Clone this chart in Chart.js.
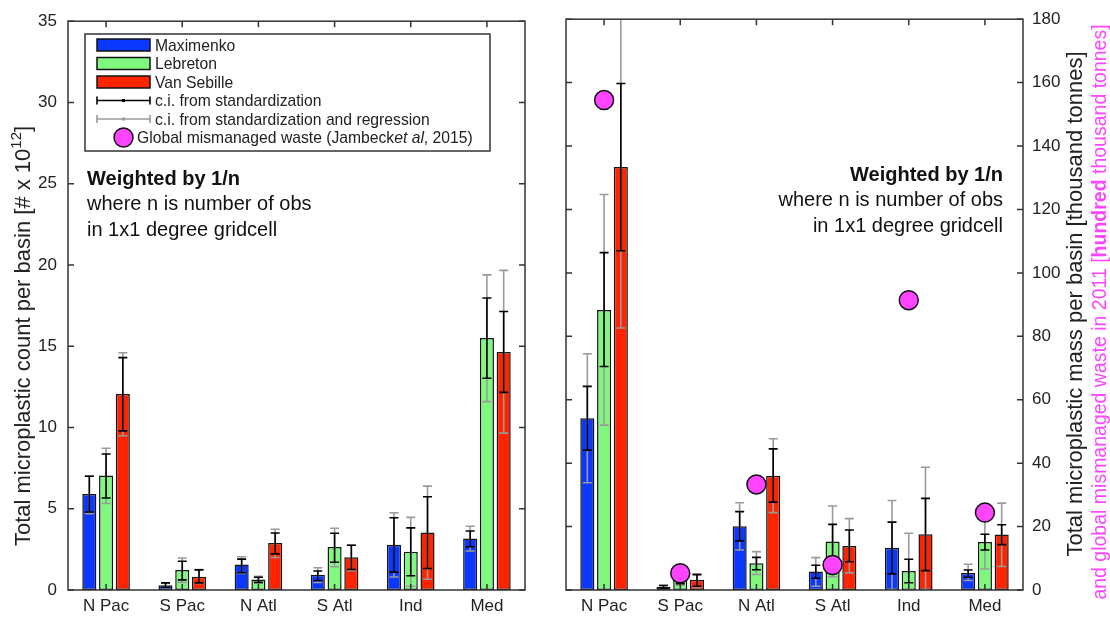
<!DOCTYPE html>
<html>
<head>
<meta charset="utf-8">
<script src="https://cdn.jsdelivr.net/npm/chart.js@4.4.1/dist/chart.umd.min.js"></script>
<style>
  html, body { margin: 0; padding: 0; background: #fff; }
  #wrap { position: relative; width: 1110px; height: 619px; }
  #countChart { position: absolute; left: 0; top: 0; }
  #massChart { position: absolute; left: 545px; top: 0; }
</style>
</head>
<body>
<div id="wrap">
  <canvas id="countChart" width="545" height="619"></canvas>
  <canvas id="massChart" width="565" height="619"></canvas>
</div>
<script>
// categories and series
const basins = ["N Pac", "S Pac", "N Atl", "S Atl", "Ind", "Med"];
const models = ["Maximenko", "Lebreton", "Van Sebille"];
const modelColors = ["#0a38ff", "#80f880", "#ff2400"];

// left panel: microplastic count [# x 10^12]
const countTicks = [0, 5, 10, 15, 20, 25, 30, 35];
const countMaximenko = [5.9, 0.29, 1.57, 0.94, 2.78, 3.17];
const countLebreton = [7.04, 1.23, 0.64, 2.64, 2.36, 15.5];
const countVanSebille = [12.06, 0.82, 2.89, 2.02, 3.54, 14.65];
// c.i. from standardization [low, high]
const countMaximenkoStd = [[4.8, 7.0], [0.17, 0.44], [1.06, 1.9], [0.58, 1.17], [1.1, 4.45], [2.66, 3.63]];
const countLebretonStd = [[5.66, 8.37], [0.62, 1.77], [0.47, 0.78], [1.71, 3.49], [0.88, 3.82], [13.03, 17.97]];
const countVanSebilleStd = [[9.79, 14.3], [0.44, 1.24], [2.22, 3.51], [1.26, 2.75], [1.32, 5.74], [12.16, 17.14]];
// c.i. from standardization and regression [low, high]
const countMaximenkoReg = [[4.7, 7.02], [0.15, 0.45], [1.02, 2.05], [0.46, 1.37], [0.8, 4.75], [2.4, 3.92]];
const countLebretonReg = [[5.32, 8.72], [0.47, 1.97], [0.44, 0.84], [1.43, 3.8], [0.23, 4.47], [11.59, 19.39]];
const countVanSebilleReg = [[9.49, 14.6], [0.4, 1.26], [2.0, 3.74], [1.18, 2.76], [0.66, 6.39], [9.65, 19.67]];

// right panel: microplastic mass [thousand tonnes]
const massTicks = [0, 20, 40, 60, 80, 100, 120, 140, 160, 180];
const massMaximenko = [54.2, 1.0, 20.1, 5.8, 13.3, 5.4];
const massLebreton = [88.3, 3.2, 8.4, 15.3, 6.0, 15.1];
const massVanSebille = [133.4, 3.2, 36.0, 13.9, 17.6, 17.5];
const massMaximenkoStd = [[44.1, 64.2], [0.5, 1.4], [15.5, 24.7], [3.7, 7.8], [5.1, 21.4], [4.0, 6.3]];
const massLebretonStd = [[70.5, 106.4], [2.0, 4.5], [6.4, 10.3], [6.6, 20.7], [2.3, 9.7], [12.6, 17.6]];
const massVanSebilleStd = [[107.0, 159.7], [1.2, 4.86], [27.7, 44.5], [8.9, 18.9], [6.1, 28.9], [14.3, 20.6]];
const massMaximenkoReg = [[33.8, 74.5], [0.4, 1.5], [12.6, 27.5], [1.2, 10.2], [0, 28.2], [3.0, 8.1]];
const massLebretonReg = [[52.0, 124.7], [1.5, 5.0], [4.9, 12.1], [4.2, 26.5], [0, 17.9], [6.6, 22.0]];
const massVanSebilleReg = [[82.6, 190], [1.0, 5.0], [24.4, 47.7], [5.4, 22.5], [0, 38.7], [7.4, 27.4]];
// global mismanaged waste in 2011 [hundred thousand tonnes] (Jambeck et al, 2015)
const mismanagedWaste = [154.5, 5.3, 33.3, 7.9, 91.4, 24.4];

const FONT = "'Liberation Sans', Arial, Helvetica, sans-serif";
const INK = "#222";
const GREY_CI = "#9a9a9a";
const PINK = "#ff44ff";

Chart.defaults.font.family = FONT;
Chart.defaults.color = INK;

function drawRich(ctx, parts, x, y, align) {
  let total = 0;
  parts.forEach((p) => {
    ctx.font = p.font;
    total += ctx.measureText(p.text).width;
  });
  let cx = align === "center" ? x - total / 2 : align === "right" ? x - total : x;
  ctx.textAlign = "left";
  ctx.textBaseline = "alphabetic";
  parts.forEach((p) => {
    ctx.font = p.font;
    ctx.fillStyle = p.color || INK;
    ctx.fillText(p.text, cx, y + (p.dy || 0));
    cx += ctx.measureText(p.text).width;
  });
}

// box round the plot with inward ticks on all four sides
const framePlugin = {
  id: "frame",
  afterDraw(chart) {
    const { ctx, chartArea: a } = chart;
    const x = chart.scales.x, y = chart.scales.y;
    ctx.save();
    ctx.strokeStyle = "#333";
    ctx.lineWidth = 1.5;
    ctx.strokeRect(a.left, a.top, a.right - a.left, a.bottom - a.top);
    ctx.beginPath();
    y.ticks.forEach((t) => {
      const py = y.getPixelForValue(t.value);
      ctx.moveTo(a.left, py); ctx.lineTo(a.left + 6, py);
      ctx.moveTo(a.right, py); ctx.lineTo(a.right - 6, py);
    });
    basins.forEach((b, i) => {
      const px = x.getPixelForValue(i);
      ctx.moveTo(px, a.top); ctx.lineTo(px, a.top + 6);
      ctx.moveTo(px, a.bottom); ctx.lineTo(px, a.bottom - 6);
    });
    ctx.stroke();
    ctx.restore();
  }
};

function whisker(ctx, x, y0, y1, cap) {
  ctx.moveTo(x, y0); ctx.lineTo(x, y1);
  ctx.moveTo(x - cap, y0); ctx.lineTo(x + cap, y0);
  ctx.moveTo(x - cap, y1); ctx.lineTo(x + cap, y1);
}

// grey then black confidence intervals over each bar
const errorBarPlugin = {
  id: "errorBars",
  afterDatasetDraw(chart, args) {
    const ds = chart.data.datasets[args.index];
    if (!ds.ciStd) return;
    const { ctx, chartArea: a } = chart;
    const y = chart.scales.y;
    ctx.save();
    ctx.beginPath();
    ctx.rect(a.left, a.top, a.right - a.left, a.bottom - a.top);
    ctx.clip();
    [[ds.ciReg, GREY_CI], [ds.ciStd, "#000"]].forEach(([ci, colour]) => {
      ctx.beginPath();
      ctx.strokeStyle = colour;
      ctx.lineWidth = 1.6;
      args.meta.data.forEach((bar, i) => {
        whisker(ctx, bar.x, y.getPixelForValue(ci[i][0]), y.getPixelForValue(ci[i][1]), 4.5);
      });
      ctx.stroke();
    });
    ctx.restore();
  }
};

// free text: legend, notes and axis titles
const notesPlugin = {
  id: "notes",
  afterDraw(chart, args, opts) {
    if (opts.draw) opts.draw(chart.ctx, chart);
  }
};

function drawLegend(ctx) {
  ctx.save();
  ctx.fillStyle = "#fff";
  ctx.fillRect(85, 34, 405, 117);
  ctx.strokeStyle = "#333";
  ctx.lineWidth = 1.5;
  ctx.strokeRect(85, 34, 405, 117);
  const rows = [45, 63.5, 82, 100.5, 119, 137.5];
  const f = "15.7px " + FONT;
  models.forEach((m, i) => {
    ctx.fillStyle = modelColors[i];
    ctx.fillRect(97, rows[i] - 6, 53, 12);
    ctx.strokeStyle = "#111";
    ctx.lineWidth = 1.5;
    ctx.strokeRect(97, rows[i] - 6, 53, 12);
    drawRich(ctx, [{ text: m, font: f }], 155, rows[i] + 5.5, "left");
  });
  [[rows[3], "#000", "c.i. from standardization"],
   [rows[4], GREY_CI, "c.i. from standardization and regression"]].forEach(([ry, c, label]) => {
    ctx.beginPath();
    ctx.strokeStyle = c;
    ctx.lineWidth = 1.6;
    ctx.moveTo(97, ry); ctx.lineTo(150, ry);
    ctx.moveTo(97, ry - 4); ctx.lineTo(97, ry + 4);
    ctx.moveTo(150, ry - 4); ctx.lineTo(150, ry + 4);
    ctx.stroke();
    ctx.fillStyle = c;
    ctx.fillRect(122, ry - 1.5, 3, 3);
    drawRich(ctx, [{ text: label, font: f }], 155, ry + 5.5, "left");
  });
  ctx.beginPath();
  ctx.arc(123.5, rows[5], 9.5, 0, Math.PI * 2);
  ctx.fillStyle = PINK;
  ctx.fill();
  ctx.strokeStyle = "#111";
  ctx.lineWidth = 1.5;
  ctx.stroke();
  drawRich(ctx, [
    { text: "Global mismanaged waste (Jambeck", font: f },
    { text: "et al", font: "italic 15.7px " + FONT },
    { text: ", 2015)", font: f }
  ], 137, rows[5] + 5.5, "left");
  ctx.restore();
}

function drawWeightNote(ctx, x, y0, align) {
  drawRich(ctx, [{ text: "Weighted by 1/n", font: "bold 20px " + FONT, color: "#111" }], x, y0, align);
  drawRich(ctx, [{ text: "where n is number of obs", font: "20px " + FONT, color: "#111" }], x, y0 + 25, align);
  drawRich(ctx, [{ text: "in 1x1 degree gridcell", font: "20px " + FONT, color: "#111" }], x, y0 + 51, align);
}

function barDatasets(values, stds, regs) {
  return models.map((m, i) => ({
    type: "bar",
    label: m,
    data: values[i],
    ciStd: stds[i],
    ciReg: regs[i],
    backgroundColor: modelColors[i],
    borderColor: "#151515",
    borderWidth: 1.5,
    borderSkipped: false,
    categoryPercentage: 0.66,
    barPercentage: 0.84,
    order: 1
  }));
}

function panelOptions(ticks, side, yWidth, padding, draw) {
  return {
    responsive: false,
    animation: false,
    events: [],
    layout: { padding },
    plugins: {
      legend: { display: false },
      tooltip: { enabled: false },
      notes: { draw }
    },
    scales: {
      x: {
        type: "category",
        offset: true,
        grid: { display: false, drawTicks: false },
        border: { display: false },
        ticks: { font: { size: 17 }, color: INK, padding: 6, maxRotation: 0 },
        afterFit: (s) => { s.height = 29; }
      },
      y: {
        position: side,
        min: ticks[0],
        max: ticks[ticks.length - 1],
        grid: { display: false, drawTicks: false },
        border: { display: false },
        afterBuildTicks: (s) => { s.ticks = ticks.map((v) => ({ value: v })); },
        ticks: { font: { size: 17 }, color: INK, padding: side === "left" ? 11 : 9 },
        afterFit: (s) => { s.width = yWidth; }
      }
    }
  };
}

new Chart(document.getElementById("countChart"), {
  data: {
    labels: basins,
    datasets: barDatasets(
      [countMaximenko, countLebreton, countVanSebille],
      [countMaximenkoStd, countLebretonStd, countVanSebilleStd],
      [countMaximenkoReg, countLebretonReg, countVanSebilleReg]
    )
  },
  options: panelOptions(countTicks, "left", 68, { top: 14, right: 20, left: 0, bottom: 0 }, (ctx) => {
    drawLegend(ctx);
    drawWeightNote(ctx, 87, 185, "left");
    ctx.save();
    ctx.translate(22, 336);
    ctx.rotate(-Math.PI / 2);
    drawRich(ctx, [
      { text: "Total microplastic count per basin [# x 10", font: "22px " + FONT },
      { text: "12", font: "15px " + FONT, dy: -9 },
      { text: "]", font: "22px " + FONT }
    ], 0, 8, "center");
    ctx.restore();
  }),
  plugins: [errorBarPlugin, framePlugin, notesPlugin]
});

const massSets = barDatasets(
  [massMaximenko, massLebreton, massVanSebille],
  [massMaximenkoStd, massLebretonStd, massVanSebilleStd],
  [massMaximenkoReg, massLebretonReg, massVanSebilleReg]
);
massSets.push({
  type: "line",
  label: "Global mismanaged waste",
  data: mismanagedWaste,
  showLine: false,
  pointRadius: 9.5,
  pointBackgroundColor: PINK,
  pointBorderColor: "#111",
  pointBorderWidth: 1.5,
  order: 0
});

new Chart(document.getElementById("massChart"), {
  data: { labels: basins, datasets: massSets },
  options: panelOptions(massTicks, "right", 87, { top: 14, right: 0, left: 21, bottom: 0 }, (ctx) => {
    drawWeightNote(ctx, 1003 - 545, 181, "right");
    ctx.save();
    ctx.translate(1075 - 545, 304);
    ctx.rotate(-Math.PI / 2);
    drawRich(ctx, [{ text: "Total microplastic mass per basin [thousand tonnes]", font: "22px " + FONT }], 0, 7, "center");
    ctx.restore();
    ctx.save();
    ctx.translate(1099 - 545, 312);
    ctx.rotate(-Math.PI / 2);
    drawRich(ctx, [
      { text: "and global mismanaged waste in 2011 [", font: "19.5px " + FONT, color: PINK },
      { text: "hundred", font: "bold 19.5px " + FONT, color: PINK },
      { text: " thousand tonnes]", font: "19.5px " + FONT, color: PINK }
    ], 0, 7, "center");
    ctx.restore();
  }),
  plugins: [errorBarPlugin, framePlugin, notesPlugin]
});
</script>
</body>
</html>
